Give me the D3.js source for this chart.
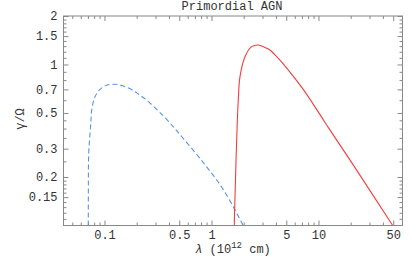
<!DOCTYPE html>
<html>
<head>
<meta charset="utf-8">
<script src="https://cdn.jsdelivr.net/npm/d3@7"></script>
<style>
  body { margin: 0; background: #fff; }
  svg { display: block; }
  text { font-family: "Courier New", "Liberation Mono", monospace; fill: #333; }
  .axis path, .axis line { stroke: #888; }
</style>
</head>
<body>
<svg id="chart" width="415" height="257"></svg>
<script>
// blue dashed curve, [lambda (10^12 cm), gamma/Omega]
var blueLambda = [0.0706, 0.0707, 0.0712, 0.0732, 0.0748, 0.0759, 0.0815, 0.0908, 0.105, 0.125, 0.150, 0.186, 0.207, 0.248, 0.354, 0.44, 0.545, 0.838, 1.29, 1.98];
var blueGamma  = [0.100, 0.17, 0.28, 0.37, 0.45, 0.52, 0.63, 0.70, 0.743, 0.753, 0.735, 0.688, 0.656, 0.60, 0.48, 0.41, 0.347, 0.246, 0.167, 0.100];

// red solid curve
var redLambda = [1.633, 1.669, 1.74, 1.78, 1.847, 2.057, 2.375, 2.737, 3.28, 3.52, 4.07, 5.05, 7.21, 10.3, 12.6, 21.2, 49.4];
var redGamma  = [0.100, 0.174, 0.43, 0.60, 0.84, 1.118, 1.29, 1.321, 1.261, 1.23, 1.118, 0.95, 0.70, 0.490, 0.398, 0.237, 0.100];

var xMajor = [0.1, 0.5, 1, 5, 10, 50];
var xMinor = [0.05, 0.06, 0.07, 0.08, 0.09, 0.2, 0.3, 0.4, 0.6, 0.7, 0.8, 0.9, 2, 3, 4, 6, 7, 8, 9, 20, 30, 40];
var yMajor = [0.15, 0.2, 0.3, 0.5, 0.7, 1, 1.5, 2];
var yMinor = [0.11, 0.12, 0.13, 0.14, 0.16, 0.17, 0.18, 0.19, 0.25, 0.35, 0.4, 0.45, 0.6, 0.8, 0.9, 1.1, 1.2, 1.3, 1.4, 1.6, 1.7, 1.8, 1.9];

var svg = d3.select('#chart'),
	pLeft = 63.5, pRight = 402.5, pTop = 16, pBottom = 225.5;

var x = d3.scaleLog().domain([0.0414, 61]).range([pLeft, pRight]);
var y = d3.scaleLog().domain([0.1, 2]).range([pBottom, pTop]);

svg.append('clipPath').attr('id', 'clip')
	.append('rect').attr('x', pLeft).attr('y', pTop).attr('width', pRight - pLeft).attr('height', pBottom - pTop);

// frame
svg.append('rect')
	.attr('x', pLeft).attr('y', pTop)
	.attr('width', pRight - pLeft).attr('height', pBottom - pTop)
	.attr('fill', 'none').attr('stroke', '#888');

function fmt(d) { return String(d); }

// bottom axis
svg.append('g').attr('class', 'axis').attr('transform', 'translate(0,' + pBottom + ')')
	.call(d3.axisBottom(x).tickValues(xMajor).tickSize(-5).tickPadding(4.5).tickFormat(fmt));
svg.append('g').attr('class', 'axis').attr('transform', 'translate(0,' + pBottom + ')')
	.call(d3.axisBottom(x).tickValues(xMinor).tickSize(-3).tickFormat(''));
// top axis
svg.append('g').attr('class', 'axis').attr('transform', 'translate(0,' + pTop + ')')
	.call(d3.axisTop(x).tickValues(xMajor).tickSize(-5).tickFormat(''));
svg.append('g').attr('class', 'axis').attr('transform', 'translate(0,' + pTop + ')')
	.call(d3.axisTop(x).tickValues(xMinor).tickSize(-3).tickFormat(''));
// left axis
svg.append('g').attr('class', 'axis').attr('transform', 'translate(' + pLeft + ',0)')
	.call(d3.axisLeft(y).tickValues(yMajor).tickSize(-5).tickPadding(6).tickFormat(fmt));
svg.append('g').attr('class', 'axis').attr('transform', 'translate(' + pLeft + ',0)')
	.call(d3.axisLeft(y).tickValues(yMinor).tickSize(-3).tickFormat(''));
// right axis
svg.append('g').attr('class', 'axis').attr('transform', 'translate(' + pRight + ',0)')
	.call(d3.axisRight(y).tickValues(yMajor).tickSize(-5).tickFormat(''));
svg.append('g').attr('class', 'axis').attr('transform', 'translate(' + pRight + ',0)')
	.call(d3.axisRight(y).tickValues(yMinor).tickSize(-3).tickFormat(''));

svg.selectAll('.axis .domain').remove();
svg.selectAll('.axis text').style('font-size', '12px').style('fill', '#333');

// curves
var line = d3.line()
	.x(function(d) { return x(d[0]); })
	.y(function(d) { return y(d[1]); })
	.curve(d3.curveCatmullRom.alpha(0.5));

var blue = blueLambda.map(function(l, i) { return [l, blueGamma[i]]; });
var red = redLambda.map(function(l, i) { return [l, redGamma[i]]; });

var g = svg.append('g').attr('clip-path', 'url(#clip)');
g.append('path')
	.attr('d', line(blue))
	.attr('fill', 'none')
	.attr('stroke', '#5592f5')
	.attr('stroke-width', 1.1)
	.attr('stroke-dasharray', '5,3');
g.append('path')
	.attr('d', line(red))
	.attr('fill', 'none')
	.attr('stroke', '#f53c3c')
	.attr('stroke-width', 1.1);

// title and labels
svg.append('text')
	.attr('x', 232).attr('y', 9.5)
	.attr('text-anchor', 'middle')
	.style('font-size', '12px')
	.text('Primordial AGN');

var xl = svg.append('text')
	.attr('x', 233).attr('y', 252.5)
	.attr('text-anchor', 'middle')
	.style('font-size', '12px');
xl.append('tspan').style('font-style', 'italic').text('λ');
xl.append('tspan').text(' (10');
xl.append('tspan').attr('dy', -4.5).style('font-size', '9px').text('12');
xl.append('tspan').attr('dy', 4.5).text(' cm)');

svg.append('text')
	.attr('transform', 'translate(24,119) rotate(-90)')
	.attr('text-anchor', 'middle')
	.style('font-size', '12px')
	.text('γ/Ω');
</script>
</body>
</html>
